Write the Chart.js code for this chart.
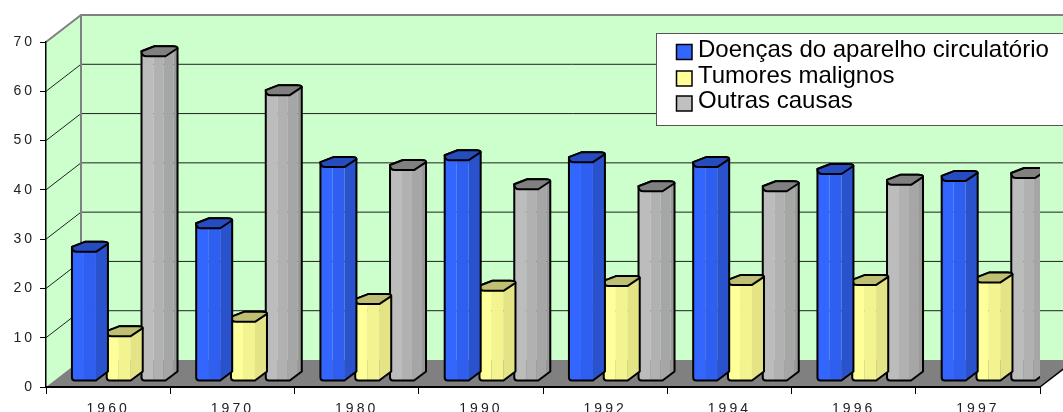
<!DOCTYPE html>
<html>
<head>
<meta charset="utf-8">
<style>
  html, body { margin: 0; padding: 0; background: #fff; overflow: hidden; }
  canvas { display: block; }
</style>
<script src="https://cdn.jsdelivr.net/npm/chart.js@4/dist/chart.umd.min.js"></script>
</head>
<body>
<canvas id="chart" width="1063" height="412"></canvas>
<script>
const categories = ['1960', '1970', '1980', '1990', '1992', '1994', '1996', '1997'];
const circulatorio = [26.2, 31, 43.4, 44.8, 44.4, 43.4, 42, 40.6];
const tumores = [9.1, 12, 15.6, 18.3, 19.3, 19.5, 19.5, 20];
const outras = [65.9, 58, 42.8, 38.9, 38.5, 38.5, 39.8, 41.2];
const seriesNames = ['Doenças do aparelho circulatório', 'Tumores malignos', 'Outras causas'];

const WALL_DX = 35, WALL_DY = -27;   // depth of the fake 3d box
const BAR_DX = 16, BAR_DY = -6;      // bars stand in the middle of the floor
const FRONT = 24, SIDE = 12;         // widths of the visible bar faces
const CAP = 10;                      // height of the top face

// colour bands left to right: [end of band in px, colour], then top face
const bands = {
  '#3366ff': { stops: [[12, '#3366ff'], [24, '#2e5ff0'], [36, '#2a52cc']], top: '#264cbf' },
  '#ffff99': { stops: [[12, '#ffff99'], [24, '#f3f390'], [36, '#e4e486']], top: '#bfbf73' },
  '#c0c0c0': { stops: [[12, '#bcbcbc'], [22, '#b1b1b1'], [32, '#a6a6a6'], [36, '#999999']], top: '#808080' }
};

class PrismBar extends Chart.BarElement {
  draw(ctx) {
    const left = this.x - this.width / 2 + BAR_DX;
    const top = this.y + BAR_DY;
    const bottom = this.base + BAR_DY;
    const look = bands[this.options.backgroundColor];
    const right = left + FRONT + SIDE;

    // back edge of the top face, rounded at both ends
    const capBack = () => {
      ctx.moveTo(left, top - CAP / 2);
      ctx.lineTo(left + 13, top - CAP);
      ctx.lineTo(left + 31, top - CAP);
      ctx.quadraticCurveTo(right, top - CAP, right, top - CAP + 2);
    };

    const outline = () => {
      ctx.beginPath();
      capBack();
      ctx.lineTo(right, bottom - 9);
      ctx.lineTo(left + FRONT, bottom);
      ctx.lineTo(left + 3, bottom);
      ctx.quadraticCurveTo(left, bottom, left, bottom - 3);
      ctx.closePath();
    };

    ctx.save();
    outline();
    ctx.clip();
    let from = 0;
    look.stops.forEach(([end, colour]) => {
      ctx.fillStyle = colour;
      ctx.fillRect(left + from, top - CAP - 2, end - from, bottom - top + CAP + 4);
      from = end;
    });
    ctx.restore();

    ctx.lineWidth = 2;
    ctx.strokeStyle = '#000';
    ctx.lineJoin = 'round';
    outline();
    ctx.stroke();

    ctx.beginPath();
    capBack();
    ctx.lineTo(left + FRONT, top);
    ctx.lineTo(left + 5, top);
    ctx.quadraticCurveTo(left, top, left, top - CAP / 2);
    ctx.closePath();
    ctx.fillStyle = look.top;
    ctx.fill();
    ctx.stroke();
  }
}
PrismBar.id = 'prismBar';
PrismBar.defaults = Chart.BarElement.defaults;
PrismBar.defaultRoutes = Chart.BarElement.defaultRoutes;

class PrismController extends Chart.BarController {}
PrismController.id = 'prism';
PrismController.defaults = { ...Chart.BarController.defaults, dataElementType: 'prismBar' };
PrismController.overrides = Chart.BarController.overrides;
Chart.register(PrismBar, PrismController);

const boxPlugin = {
  id: 'box',
  beforeDraw(chart) {
    const { ctx, chartArea: a, scales: { y } } = chart;
    ctx.letterSpacing = '3px';
    ctx.save();
    ctx.fillStyle = '#ccffcc';
    ctx.beginPath();
    ctx.moveTo(a.left, a.top);
    ctx.lineTo(a.left + WALL_DX, a.top + WALL_DY);
    ctx.lineTo(a.right + WALL_DX, a.top + WALL_DY);
    ctx.lineTo(a.right + WALL_DX, a.bottom + WALL_DY);
    ctx.lineTo(a.left + WALL_DX, a.bottom + WALL_DY);
    ctx.lineTo(a.left, a.bottom);
    ctx.closePath();
    ctx.fill();

    ctx.fillStyle = '#808080';
    ctx.beginPath();
    ctx.moveTo(a.left, a.bottom);
    ctx.lineTo(a.left + WALL_DX, a.bottom + WALL_DY);
    ctx.lineTo(a.right + WALL_DX, a.bottom + WALL_DY);
    ctx.lineTo(a.right, a.bottom);
    ctx.closePath();
    ctx.fill();

    ctx.lineWidth = 1;
    ctx.strokeStyle = '#222';
    y.ticks.forEach((tick) => {
      if (tick.value === 0 || tick.value === y.max) return;
      const py = y.getPixelForValue(tick.value);
      ctx.beginPath();
      ctx.moveTo(a.left, py);
      ctx.lineTo(a.left + WALL_DX, py + WALL_DY);
      ctx.lineTo(a.right + WALL_DX, py + WALL_DY);
      ctx.stroke();
    });

    ctx.lineWidth = 2;
    ctx.strokeStyle = '#808080';
    ctx.beginPath();
    ctx.moveTo(a.left, a.top);
    ctx.lineTo(a.left + WALL_DX, a.top + WALL_DY);
    ctx.lineTo(a.right + WALL_DX, a.top + WALL_DY);
    ctx.moveTo(a.left + WALL_DX, a.top + WALL_DY);
    ctx.lineTo(a.left + WALL_DX, a.bottom + WALL_DY);
    ctx.stroke();

    ctx.lineWidth = 1.5;
    ctx.strokeStyle = '#000';
    ctx.beginPath();
    ctx.moveTo(a.right, a.bottom);
    ctx.lineTo(a.right + WALL_DX, a.bottom + WALL_DY);
    ctx.stroke();
    ctx.restore();
  },
  afterDraw(chart) {
    const { ctx } = chart;
    ctx.save();
    ctx.letterSpacing = '0px';
    ctx.fillStyle = '#fff';
    ctx.strokeStyle = '#555';
    ctx.lineWidth = 1;
    ctx.fillRect(656.5, 33.5, 420, 92);
    ctx.strokeRect(656.5, 33.5, 420, 92);

    const swatchY = [44.5, 71, 96];
    const textY = [57, 83, 108];
    ctx.font = '24px "Liberation Sans"';
    ctx.textAlign = 'left';
    ctx.textBaseline = 'alphabetic';
    chart.data.datasets.forEach((ds, i) => {
      ctx.fillStyle = ds.backgroundColor;
      ctx.strokeStyle = '#000';
      ctx.lineWidth = 1.5;
      ctx.fillRect(676.5, swatchY[i], 15.5, 15);
      ctx.strokeRect(676.5, swatchY[i], 15.5, 15);
      ctx.fillStyle = '#000';
      ctx.fillText(ds.label, 698, textY[i]);
    });
    ctx.restore();
  }
};

new Chart(document.getElementById('chart'), {
  type: 'prism',
  data: {
    labels: categories,
    datasets: [
      { label: seriesNames[0], data: circulatorio, backgroundColor: '#3366ff' },
      { label: seriesNames[1], data: tumores, backgroundColor: '#ffff99' },
      { label: seriesNames[2], data: outras, backgroundColor: '#c0c0c0' }
    ]
  },
  options: {
    responsive: false,
    animation: false,
    categoryPercentage: 0.84,
    barPercentage: 1,
    layout: { padding: { top: 42, right: 23, left: 0, bottom: 0 } },
    plugins: { legend: { display: false }, tooltip: { enabled: false }, title: { display: false } },
    scales: {
      x: {
        grid: { drawOnChartArea: false, color: '#000', tickLength: 7, offset: true },
        border: { color: '#000', width: 2 },
        ticks: { color: '#222', font: { family: 'Liberation Sans', size: 14 }, padding: 7, maxRotation: 0, autoSkip: false },
        afterFit(scale) { scale.height = 25; }
      },
      y: {
        min: 0,
        max: 70,
        grid: { drawOnChartArea: false, color: '#000', tickLength: 6 },
        border: { color: '#000', width: 1.5 },
        ticks: { stepSize: 10, color: '#222', font: { family: 'Liberation Sans', size: 14 }, padding: 5 },
        afterFit(scale) { scale.width = 46; }
      }
    }
  },
  plugins: [boxPlugin]
});
</script>
</body>
</html>
